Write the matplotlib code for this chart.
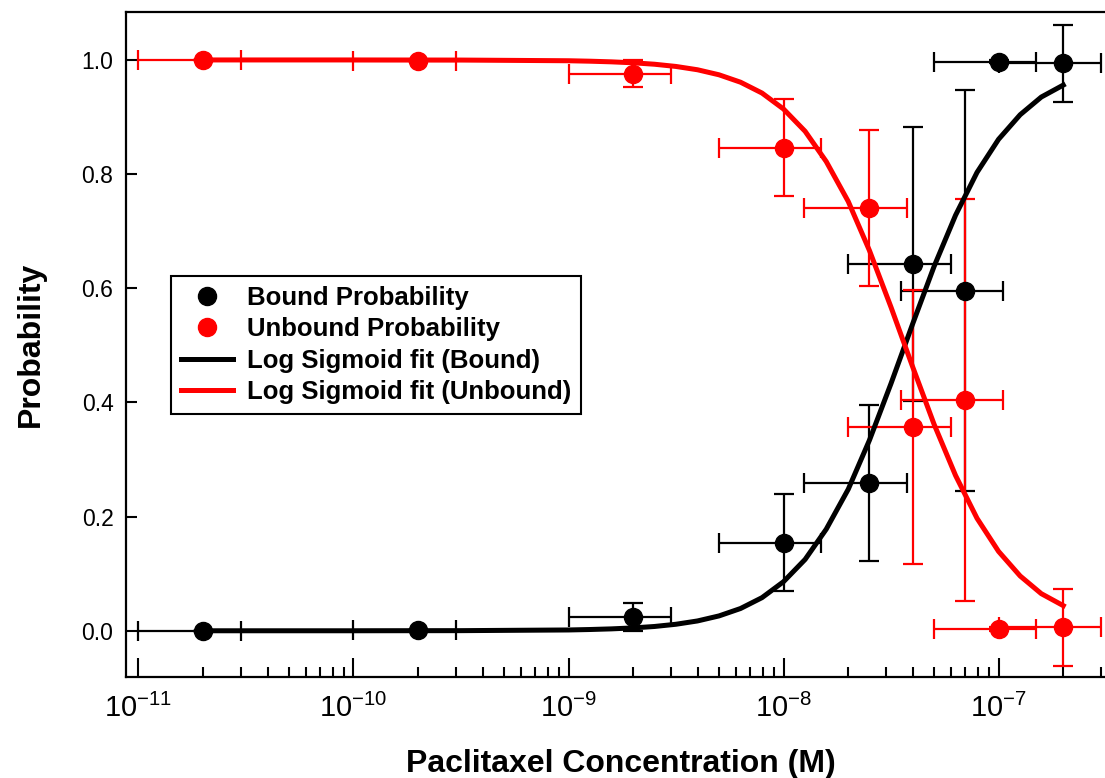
import numpy as np
import matplotlib
matplotlib.use("Agg")
import matplotlib.pyplot as plt
from matplotlib.lines import Line2D
from matplotlib.ticker import FixedLocator, NullFormatter

# concentrations (M)
conc = [2e-11, 2e-10, 2e-9, 1e-8, 2.5e-8, 4e-8, 7e-8, 1e-7, 2e-7]
conc_err = [1e-11, 1e-10, 1e-9, 5e-9, 1.25e-8, 2e-8, 3.5e-8, 5e-8, 1e-7]

bound = [0.0, 0.001, 0.024, 0.154, 0.259, 0.643, 0.596, 0.997, 0.994]
unbound = [1.0, 0.999, 0.976, 0.846, 0.741, 0.357, 0.404, 0.003, 0.006]
prob_err = [0.0, 0.0, 0.024, 0.085, 0.137, 0.24, 0.352, 0.003, 0.067]

# fit curves
fit_x = [2e-11, 1e-10, 3.16e-10, 1e-9,
         1.26e-9, 1.58e-9, 2e-9, 2.51e-9, 3.16e-9, 3.98e-9, 5.01e-9, 6.31e-9, 7.94e-9,
         1e-8, 1.26e-8, 1.58e-8, 2e-8, 2.51e-8, 3.16e-8, 3.98e-8, 5.01e-8, 6.31e-8, 7.94e-8,
         1e-7, 1.26e-7, 1.58e-7, 2e-7]
fit_bound = [0.0, 0.0, 0.0002, 0.0014,
             0.0022, 0.0033, 0.0050, 0.0075, 0.0114, 0.0172, 0.026, 0.039, 0.058,
             0.086, 0.125, 0.178, 0.248, 0.334, 0.433, 0.537, 0.638, 0.728, 0.803,
             0.861, 0.904, 0.935, 0.956]
fit_unbound = [1.0, 1.0, 0.9998, 0.9986,
               0.9978, 0.9967, 0.995, 0.9925, 0.9886, 0.9828, 0.974, 0.961, 0.942,
               0.914, 0.875, 0.822, 0.752, 0.666, 0.567, 0.463, 0.362, 0.272, 0.197,
               0.139, 0.096, 0.065, 0.044]

decades = [1e-11, 1e-10, 1e-9, 1e-8, 1e-7]

RED = "#ff0000"

plt.rcParams["font.family"] = ["Liberation Sans", "DejaVu Sans"]
plt.rcParams["mathtext.fontset"] = "custom"
plt.rcParams["mathtext.rm"] = "Liberation Sans"
plt.rcParams["axes.unicode_minus"] = False

W, H = 1105, 778
fig = plt.figure(figsize=(W / 100, H / 100), dpi=100)
left, right, top, bottom = 126, 1105, 12, 677
ax = fig.add_axes([left / W, 1 - bottom / H, (right - left) / W, (bottom - top) / H])

ebkw = dict(fmt="o", markersize=13, elinewidth=1.6, capsize=7, capthick=1.6)
ax.errorbar(conc, bound, xerr=conc_err, yerr=prob_err, color="black", zorder=3, **ebkw)
ax.errorbar(conc, unbound, xerr=conc_err, yerr=prob_err, color=RED, zorder=3, **ebkw)
ax.plot(fit_x, fit_bound, color="black", lw=3.6, zorder=4, solid_joinstyle="round")
ax.plot(fit_x, fit_unbound, color=RED, lw=3.6, zorder=4, solid_joinstyle="round")

ax.set_xscale("log")
ax.set_xlim(10 ** -11.058, 10 ** -6.505)
ax.set_ylim(-0.081, 1.084)
ax.set_yticks([0.0, 0.2, 0.4, 0.6, 0.8, 1.0])
ax.set_yticklabels(["0.0", "0.2", "0.4", "0.6", "0.8", "1.0"])
ax.xaxis.set_major_locator(FixedLocator(decades))
ax.set_xticklabels([r"$\mathdefault{10^{%d}}$" % round(np.log10(d)) for d in decades])
ax.xaxis.set_minor_locator(FixedLocator([k * d for d in decades for k in range(2, 10)]))
ax.xaxis.set_minor_formatter(NullFormatter())

ax.tick_params(axis="x", which="major", direction="in", length=14, width=1.5,
               labelsize=21, pad=12)
ax.tick_params(axis="x", which="minor", direction="in", length=7, width=1.5)
ax.tick_params(axis="y", which="major", direction="in", length=8, width=1.5,
               labelsize=16.5, pad=9)
for s in ["left", "top", "bottom"]:
    ax.spines[s].set_linewidth(1.6)
ax.spines["right"].set_visible(False)

ax.set_xlabel("Paclitaxel Concentration (M)", fontsize=23, fontweight="bold")
ax.xaxis.set_label_coords(0.505, -0.108)
ax.xaxis.label.set_va("top")
ax.set_ylabel("Probability", fontsize=23, fontweight="bold")
ax.yaxis.set_label_coords(-0.082, 0.5)

handles = [
    Line2D([], [], ls="none", marker="o", color="black", markersize=13),
    Line2D([], [], ls="none", marker="o", color=RED, markersize=13),
    Line2D([], [], color="black", lw=3.6),
    Line2D([], [], color=RED, lw=3.6),
]
labels = ["Bound Probability", "Unbound Probability",
          "Log Sigmoid fit (Bound)", "Log Sigmoid fit (Unbound)"]
leg = ax.legend(handles, labels, loc="upper left",
                bbox_to_anchor=((171 - left) / (right - left), (bottom - 276) / (bottom - top)),
                borderaxespad=0, fancybox=False, framealpha=1, edgecolor="black",
                prop=dict(size=18.5, weight="bold"), handlelength=2.0,
                labelspacing=0.28, borderpad=0.4, handletextpad=0.55)
leg.get_frame().set_linewidth(1.5)

fig.savefig("out.png", dpi=100)
